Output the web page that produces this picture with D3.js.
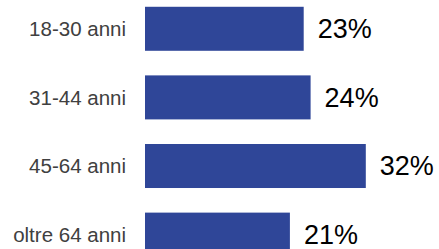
<!DOCTYPE html>
<html>
<head>
<meta charset="utf-8">
<script src="https://cdn.jsdelivr.net/npm/d3@7"></script>
<style>
    body { margin: 0; background: #fff; }
    svg { display: block; }
</style>
</head>
<body>
<div id="chart"></div>
<script>
// data
const categories = ["18-30 anni", "31-44 anni", "45-64 anni", "oltre 64 anni"];
const values = [23, 24, 32, 21];
const valueLabels = ["23%", "24%", "32%", "21%"];

const width = 439, height = 249;
const barLeft = 145;

const svg = d3.select("#chart")
    .append("svg")
    .attr("width", width)
    .attr("height", height);

// scales
const x = d3.scaleLinear()
    .domain([0, 40])
    .range([barLeft, barLeft + 276]);

const y = d3.scaleBand()
    .domain(categories)
    .range([-5.5, 268.9])
    .paddingInner(0.3586)
    .paddingOuter(0.179);

// bars
svg.selectAll(".bar")
    .data(values)
    .enter()
    .append("rect")
    .attr("class", "bar")
    .attr("x", x(0))
    .attr("y", (d, i) => y(categories[i]))
    .attr("width", d => x(d) - x(0))
    .attr("height", y.bandwidth())
    .attr("fill", "#2F4698");

// category labels
svg.selectAll(".cat_label")
    .data(categories)
    .enter()
    .append("text")
    .attr("class", "cat_label")
    .attr("x", barLeft - 19)
    .attr("y", d => y(d) + y.bandwidth() / 2)
    .attr("dy", "0.35em")
    .attr("text-anchor", "end")
    .attr("font-family", "Liberation Sans, Arial, sans-serif")
    .attr("font-size", "20.5px")
    .attr("fill", "#404040")
    .text(d => d);

// value labels
svg.selectAll(".val_label")
    .data(values)
    .enter()
    .append("text")
    .attr("class", "val_label")
    .attr("x", d => x(d) + 14)
    .attr("y", (d, i) => y(categories[i]) + y.bandwidth() / 2)
    .attr("dy", "0.35em")
    .attr("font-family", "Liberation Sans, Arial, sans-serif")
    .attr("font-size", "27px")
    .attr("fill", "#000")
    .text((d, i) => valueLabels[i]);
</script>
</body>
</html>
